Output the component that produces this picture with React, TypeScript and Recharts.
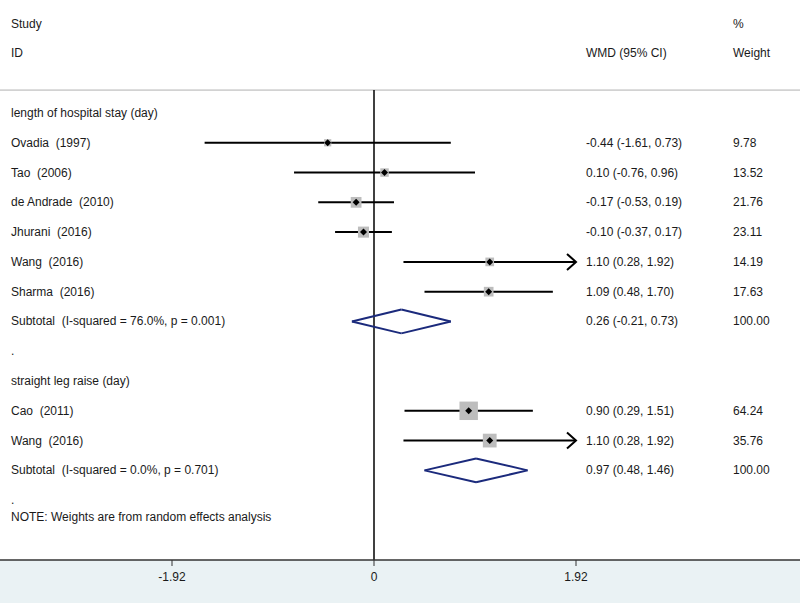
import React from 'react';
import {
  ScatterChart,
  Scatter,
  XAxis,
  YAxis,
  ReferenceLine,
} from 'recharts';

// forest plot rows, top to bottom (row index = position in these arrays)
const rowLabels = [
  'length of hospital stay (day)',
  'Ovadia  (1997)',
  'Tao  (2006)',
  'de Andrade  (2010)',
  'Jhurani  (2016)',
  'Wang  (2016)',
  'Sharma  (2016)',
  'Subtotal  (I-squared = 76.0%, p = 0.001)',
  '.',
  'straight leg raise (day)',
  'Cao  (2011)',
  'Wang  (2016)',
  'Subtotal  (I-squared = 0.0%, p = 0.701)',
  '.',
];
const rowKinds = ['group', 'study', 'study', 'study', 'study', 'study', 'study', 'subtotal', 'blank', 'group', 'study', 'study', 'subtotal', 'blank'];
const estimates = [null, -0.44, 0.1, -0.17, -0.1, 1.1, 1.09, 0.26, null, null, 0.9, 1.1, 0.97, null];
const lowerCI = [null, -1.61, -0.76, -0.53, -0.37, 0.28, 0.48, -0.21, null, null, 0.29, 0.28, 0.48, null];
const upperCI = [null, 0.73, 0.96, 0.19, 0.17, 1.92, 1.7, 0.73, null, null, 1.51, 1.92, 1.46, null];
const weights = [null, 9.78, 13.52, 21.76, 23.11, 14.19, 17.63, 100.0, null, null, 64.24, 35.76, 100.0, null];

const xTicks = [-1.92, 0, 1.92];
const noteText = 'NOTE: Weights are from random effects analysis';

// layout
const W = 800;
const H = 603;
const AXIS_Y = 560;
const PX_PER_UNIT = 202 / 1.92;
const ZERO_X = 374;
const XMIN = -ZERO_X / PX_PER_UNIT;
const XMAX = (W - ZERO_X) / PX_PER_UNIT;
const ROW_H = 29.78;
const ROW0_Y = 113;
const YMIN = -ROW0_Y / ROW_H;
const YMAX = (AXIS_Y - ROW0_Y) / ROW_H;
const TOP_RULE = -0.77;
const NOTE_ROW = 13.55;
const COL_X: Record<string, number> = { label: 11, wmd: 586, weight: 733 };
const DIAMOND_H = 0.4;
const FONT = '"Liberation Sans", Arial, Helvetica, sans-serif';
const FONT_SIZE = 12;
const TEXT = '#1a1a1a';
const NAVY = '#1b2a7c';

const fmt = (v: number) => v.toFixed(2);

type TextRow = { x: number; y: number; col: string; text: string };

const textRows: TextRow[] = [
  { x: 0, y: -3, col: 'label', text: 'Study' },
  { x: 0, y: -3, col: 'weight', text: '%' },
  { x: 0, y: -2, col: 'label', text: 'ID' },
  { x: 0, y: -2, col: 'wmd', text: 'WMD (95% CI)' },
  { x: 0, y: -2, col: 'weight', text: 'Weight' },
  { x: 0, y: NOTE_ROW, col: 'label', text: noteText },
];
rowLabels.forEach((label, i) => {
  textRows.push({ x: 0, y: i, col: 'label', text: label });
  const est = estimates[i];
  const lo = lowerCI[i];
  const hi = upperCI[i];
  const w = weights[i];
  if (est != null && lo != null && hi != null) {
    textRows.push({ x: 0, y: i, col: 'wmd', text: `${fmt(est)} (${fmt(lo)}, ${fmt(hi)})` });
  }
  if (w != null) textRows.push({ x: 0, y: i, col: 'weight', text: fmt(w) });
});

const studies = rowKinds
  .map((k, i) => ({ k, x: estimates[i] as number, y: i, lo: lowerCI[i] as number, hi: upperCI[i] as number, w: weights[i] as number }))
  .filter((d) => d.k === 'study');
const subtotals = rowKinds
  .map((k, i) => ({ k, x: estimates[i] as number, y: i, lo: lowerCI[i] as number, hi: upperCI[i] as number }))
  .filter((d) => d.k === 'subtotal');

const TextShape = (props: any) => {
  const { cy, payload } = props;
  return (
    <text
      x={COL_X[payload.col]}
      y={cy}
      dominantBaseline="central"
      fontSize={FONT_SIZE}
      fill={TEXT}
      fontFamily={FONT}
      style={{ whiteSpace: 'pre' }}
    >
      {payload.text}
    </text>
  );
};

const BoxShape = (props: any) => {
  const { cx, cy, payload } = props;
  const s = 2.3 * Math.sqrt(payload.w);
  return <rect x={cx - s / 2} y={cy - s / 2} width={s} height={s} fill="#bdbdbd" />;
};

const PointShape = (props: any) => {
  const { cx, cy } = props;
  const r = 3.5;
  return <path d={`M${cx - r},${cy}L${cx},${cy - r}L${cx + r},${cy}L${cx},${cy + r}Z`} fill="#000" />;
};

const ArrowLine = (props: any) => {
  const { x1, y1, x2, y2 } = props;
  return (
    <g>
      <line x1={x1} y1={y1} x2={x2} y2={y2} stroke="#000" strokeWidth={2} />
      <path d={`M${x2 - 9},${y2 - 8}L${x2},${y2}L${x2 - 9},${y2 + 8}`} fill="none" stroke="#000" strokeWidth={2} />
    </g>
  );
};

export default function App() {
  return (
    <div
      style={{
        position: 'absolute',
        left: 0,
        top: 0,
        width: W,
        height: H,
        fontFamily: FONT,
        background: `linear-gradient(to bottom, #ffffff 0px, #ffffff ${AXIS_Y}px, #eaf2f4 ${AXIS_Y}px, #eaf2f4 ${H}px)`,
      }}
    >
      <ScatterChart width={W} height={H} margin={{ top: 0, right: 0, bottom: 0, left: 0 }}>
        <XAxis
          type="number"
          dataKey="x"
          domain={[XMIN, XMAX]}
          allowDataOverflow
          ticks={xTicks}
          tickFormatter={(v: number) => (v === 0 ? '0' : fmt(v))}
          height={H - AXIS_Y}
          axisLine={{ stroke: '#333', strokeWidth: 1.5 }}
          tickLine={{ stroke: '#333' }}
          tickSize={6}
          tickMargin={6}
          tick={{ fontSize: FONT_SIZE, fill: TEXT, fontFamily: FONT }}
        />
        <YAxis type="number" dataKey="y" domain={[YMIN, YMAX]} reversed hide allowDataOverflow />

        <ReferenceLine y={TOP_RULE} stroke="#b0b0b0" strokeWidth={1} />
        <ReferenceLine
          segment={[{ x: 0, y: TOP_RULE }, { x: 0, y: YMAX }]}
          stroke="#000"
          strokeWidth={1.5}
        />

        <Scatter data={studies} shape={BoxShape} isAnimationActive={false} />

        {studies.map((d) =>
          d.hi >= xTicks[2] ? (
            <ReferenceLine
              key={`ci${d.y}`}
              segment={[{ x: d.lo, y: d.y }, { x: d.hi, y: d.y }]}
              shape={ArrowLine}
            />
          ) : (
            <ReferenceLine
              key={`ci${d.y}`}
              segment={[{ x: d.lo, y: d.y }, { x: d.hi, y: d.y }]}
              stroke="#000"
              strokeWidth={2}
            />
          )
        )}

        {subtotals.map((d) => [
          <ReferenceLine key={`a${d.y}`} segment={[{ x: d.lo, y: d.y }, { x: d.x, y: d.y - DIAMOND_H }]} stroke={NAVY} strokeWidth={2} />,
          <ReferenceLine key={`b${d.y}`} segment={[{ x: d.x, y: d.y - DIAMOND_H }, { x: d.hi, y: d.y }]} stroke={NAVY} strokeWidth={2} />,
          <ReferenceLine key={`c${d.y}`} segment={[{ x: d.hi, y: d.y }, { x: d.x, y: d.y + DIAMOND_H }]} stroke={NAVY} strokeWidth={2} />,
          <ReferenceLine key={`d${d.y}`} segment={[{ x: d.x, y: d.y + DIAMOND_H }, { x: d.lo, y: d.y }]} stroke={NAVY} strokeWidth={2} />,
        ])}

        <Scatter data={studies} shape={PointShape} isAnimationActive={false} />
        <Scatter data={textRows} shape={TextShape} isAnimationActive={false} />
      </ScatterChart>
    </div>
  );
}
